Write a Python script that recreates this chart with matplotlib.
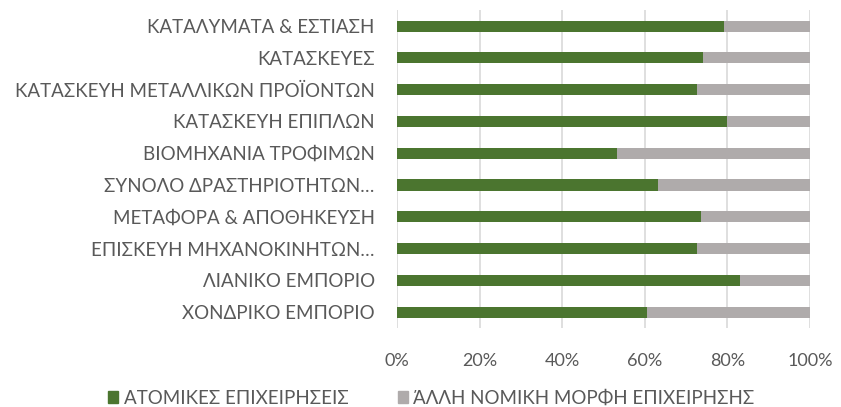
import matplotlib
matplotlib.use("Agg")
import matplotlib.pyplot as plt
from matplotlib.patches import Patch

# Share of business types per sector (%), top to bottom
categories = [
    "ΚΑΤΑΛΥΜΑΤΑ & ΕΣΤΙΑΣΗ",
    "ΚΑΤΑΣΚΕΥΕΣ",
    "ΚΑΤΑΣΚΕΥΗ ΜΕΤΑΛΛΙΚΩΝ ΠΡΟΪΟΝΤΩΝ",
    "ΚΑΤΑΣΚΕΥΗ ΕΠΙΠΛΩΝ",
    "ΒΙΟΜΗΧΑΝΙΑ ΤΡΟΦΙΜΩΝ",
    "ΣΥΝΟΛΟ ΔΡΑΣΤΗΡΙΟΤΗΤΩΝ…",
    "ΜΕΤΑΦΟΡΑ & ΑΠΟΘΗΚΕΥΣΗ",
    "ΕΠΙΣΚΕΥΗ ΜΗΧΑΝΟΚΙΝΗΤΩΝ…",
    "ΛΙΑΝΙΚΟ ΕΜΠΟΡΙΟ",
    "ΧΟΝΔΡΙΚΟ ΕΜΠΟΡΙΟ",
]
individual = [79.2, 74.1, 72.6, 79.9, 53.3, 63.2, 73.6, 72.6, 83.1, 60.5]
other = [100 - v for v in individual]

series_names = ["ΑΤΟΜΙΚΕΣ ΕΠΙΧΕΙΡΗΣΕΙΣ", "ΆΛΛΗ ΝΟΜΙΚΗ ΜΟΡΦΗ ΕΠΙΧΕΙΡΗΣΗΣ"]
xticks = [0, 20, 40, 60, 80, 100]

GREEN = "#4B752F"
GREY = "#AFABAB"
TEXT = "#595959"

plt.rcParams["font.family"] = ["Lato", "DejaVu Sans"]

fig = plt.figure(figsize=(8.41, 4.07), dpi=100)
ax = fig.add_axes([0.472, 0.194, 0.491, 0.781])

y = list(range(len(categories)))
ax.barh(y, individual, height=0.35, color=GREEN, zorder=3)
ax.barh(y, other, left=individual, height=0.35, color=GREY, zorder=3)

ax.set_ylim(len(categories) - 0.5, -0.5)
ax.set_xlim(0, 100)
ax.set_yticks(y)
ax.set_yticklabels(categories, fontsize=13.5, color=TEXT)
ax.set_xticks(xticks)
ax.set_xticklabels([f"{t}%" for t in xticks], fontsize=13, color=TEXT)
ax.tick_params(length=0)
ax.tick_params(axis="y", pad=16)
ax.tick_params(axis="x", pad=18)

ax.grid(axis="x", color="#D9D9D9", linewidth=1.2, zorder=0)
for s in ax.spines.values():
    s.set_visible(False)

handles = [Patch(color=GREEN), Patch(color=GREY)]
fig.legend(handles, series_names, loc="center", bbox_to_anchor=(0.513, 0.022),
           ncol=2, frameon=False, fontsize=13.5, handlelength=0.55, handleheight=0.55,
           handletextpad=0.3, columnspacing=2.6, labelcolor=TEXT)

fig.savefig("out.png", dpi=100)
